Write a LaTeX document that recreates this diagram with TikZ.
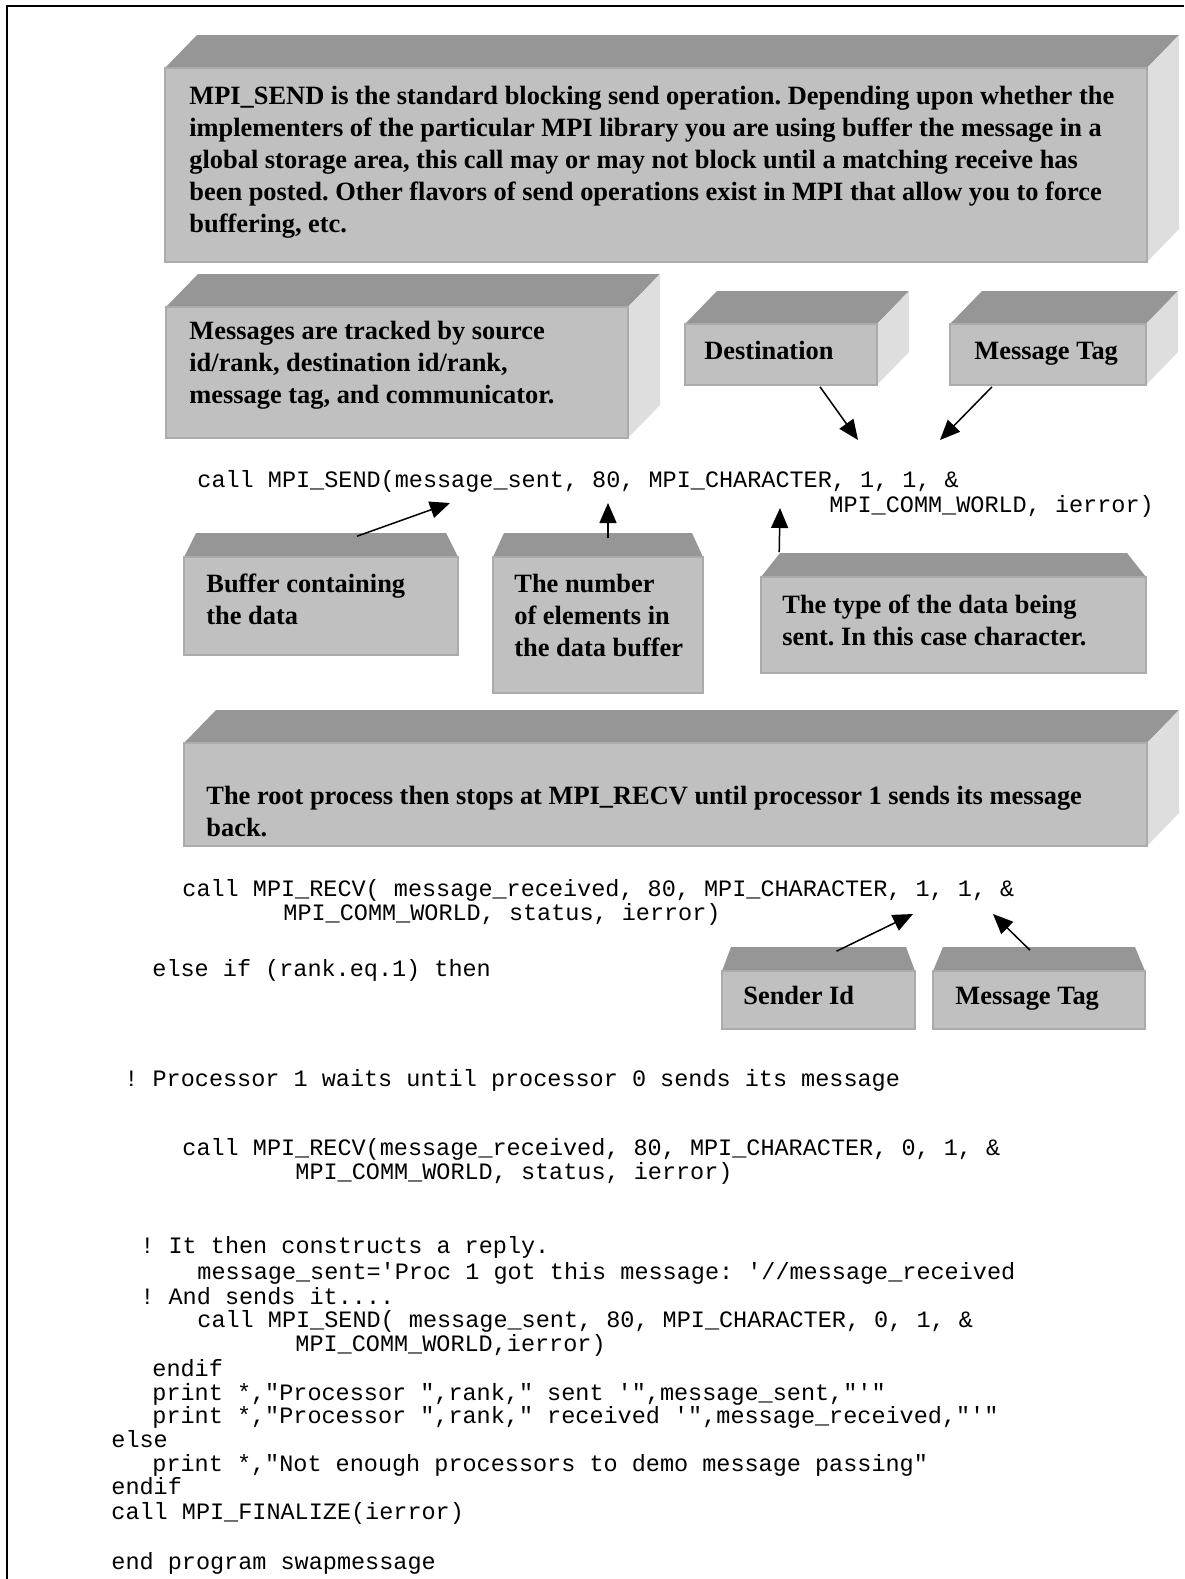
\documentclass[tikz,border=0pt]{standalone}
\usepackage{fontspec}
\setmainfont{Liberation Serif}
\setmonofont{Liberation Mono}
\usetikzlibrary{arrows.meta,calc,fit}
\frenchspacing

\definecolor{frontgray}{HTML}{C0C0C0}
\definecolor{topgray}{HTML}{969696}
\definecolor{sidegray}{HTML}{DEDEDE}
\definecolor{edgegray}{HTML}{ABABAB}

\newcommand{\notefont}{\bfseries\fontsize{13.2pt}{16pt}\selectfont}
\newcommand{\codefont}{\ttfamily\fontsize{11.75pt}{12.1pt}\selectfont}

% raised box with top and right faces: name, x1, y1, x2, y2 of the front face
\newcommand{\raisedbox}[5]{%
    \fill[topgray] (#2,#3) -- ++(32,-33) -- (#4+32,#3-33) -- (#4,#3) -- cycle;
    \fill[sidegray] (#4,#3) -- (#4+32,#3-33) -- (#4+32,#5-33) -- (#4,#5) -- cycle;
    \node[frontface, fit={(#2,#3) (#4,#5)}] (#1) {};}
% box with a bevelled top only: name, x1, y1, x2, y2, inset of the top edge
\newcommand{\bevelbox}[6]{%
    \fill[topgray] (#2,#3) -- (#2+#6,#3-24) -- (#4-#6,#3-24) -- (#4,#3) -- cycle;
    \node[frontface, fit={(#2,#3) (#4,#5)}] (#1) {};}

\tikzset{
    frontface/.style={fill=frontgray, draw=edgegray, line width=0.8pt, inner sep=0pt},
    note/.style={font=\notefont, align=left, anchor=north west, inner sep=0pt},
    label/.style={font=\notefont, anchor=base west, inner sep=0pt},
    code/.style={font=\codefont, anchor=base west, inner sep=0pt},
    pointer/.style={line width=0.75pt, -{Triangle[length=10pt,width=8.5pt]}},
}

\begin{document}
\begin{tikzpicture}[x=0.5pt, y=-0.5pt]
    \useasboundingbox (0,0) rectangle (1184,1579);
    \draw[line width=1.3pt] (7,1579) -- (7,6) -- (1184,6);   % page frame

    % callout boxes
    \raisedbox{sendbox}{165}{68}{1147}{262}
    \raisedbox{trackbox}{166}{307}{628}{438}
    \raisedbox{destbox}{685}{324}{877}{385}
    \raisedbox{tagbox}{950}{324}{1146}{385}
    \bevelbox{bufbox}{184}{557}{458}{655}{12}
    \bevelbox{numbox}{493}{557}{703}{693}{11}
    \bevelbox{typebox}{761}{577}{1146}{673}{19}
    \raisedbox{rootbox}{184}{743}{1147}{846}
    \bevelbox{senderbox}{722}{971}{915}{1029}{9}
    \bevelbox{tagtwobox}{933}{971}{1145}{1029}{10}

    \node[note] (sendnote) at (189,86) {MPI\_SEND is the standard blocking send operation. Depending upon whether the\\
        implementers of the particular MPI library you are using buffer the message in a\\
        global storage area, this call may or may not block until a matching receive has\\
        been posted. Other flavors of send operations exist in MPI that allow you to force\\
        buffering, etc.};
    \node[note] (tracknote) at (189,321) {Messages are tracked by source\\ id/rank, destination id/rank,\\ message tag, and communicator.};
    \node[label] (destnote) at (704,359) {Destination};
    \node[label] (tagnote) at (974,359) {Message Tag};
    \node[note] (bufnote) at (206,574) {Buffer containing\\ the data};
    \node[note] (numnote) at (514,574) {The number\\ of elements in\\ the data buffer};
    \node[note] (typenote) at (782,595) {The type of the data being\\ sent. In this case character.};
    \node[note] (rootnote) at (206,786) {The root process then stops at MPI\_RECV until processor 1 sends its message\\ back.};
    \node[label] (sendernote) at (743,1004) {Sender Id};
    \node[label] (tagtwonote) at (955,1004) {Message Tag};

    % program text
    \node[code] (sendcall) at (197,487) {call MPI\_SEND(message\_sent, 80, MPI\_CHARACTER, 1, 1, \&};
    \node[code] (sendcont) at (829,512) {MPI\_COMM\_WORLD, ierror)};
    \node[code] (recvcall) at (182,896) {call MPI\_RECV( message\_received, 80, MPI\_CHARACTER, 1, 1, \&};
    \node[code] (recvcont) at (283,920) {MPI\_COMM\_WORLD, status, ierror)};
    \node[code] (elseif) at (152,976) {else if (rank.eq.1) then};
    \node[code] (waitcmt) at (124,1086) {! Processor 1 waits until processor 0 sends its message};
    \node[code] (recvcalltwo) at (182,1155) {call MPI\_RECV(message\_received, 80, MPI\_CHARACTER, 0, 1, \&};
    \node[code] (recvconttwo) at (295,1179) {MPI\_COMM\_WORLD, status, ierror)};
    \node[code] (replycmt) at (140,1253) {! It then constructs a reply.};
    \node[code] (replyset) at (197,1279) {message\_sent='Proc 1 got this message: '//message\_received};
    \node[code] (sendcmt) at (140,1304) {! And sends it....};
    \node[code] (sendcalltwo) at (197,1327) {call MPI\_SEND( message\_sent, 80, MPI\_CHARACTER, 0, 1, \&};
    \node[code] (sendconttwo) at (295,1351) {MPI\_COMM\_WORLD,ierror)};
    \node[code] (endifin) at (152,1376) {endif};
    \node[code] (printsent) at (152,1400) {print *,"Processor ",rank," sent '",message\_sent,"'"};
    \node[code] (printrecv) at (152,1423) {print *,"Processor ",rank," received '",message\_received,"'"};
    \node[code] (elseout) at (111,1447) {else};
    \node[code] (printnot) at (152,1471) {print *,"Not enough processors to demo message passing"};
    \node[code] (endifout) at (111,1494) {endif};
    \node[code] (finalize) at (111,1519) {call MPI\_FINALIZE(ierror)};
    \node[code] (endprog) at (111,1569) {end program swapmessage};

    % arrow tips point into the program text
    \coordinate (buftip) at (450,503);
    \coordinate (numtip) at (608,503);
    \coordinate (typetip) at (780,508);
    \coordinate (desttip) at (858,440);
    \coordinate (tagtip) at (940,440);
    \coordinate (sendertip) at (913,914);
    \coordinate (tagtwotip) at (993,914);

    \draw[pointer] ($(bufbox.north)+(36,-20)$) -- (buftip);
    \draw[pointer] ($(numbox.north)+(10,-18)$) -- (numtip);
    \draw[pointer] ($(typebox.north west)+(19,-24)$) -- (typetip);
    \draw[pointer] ($(destbox.south)+(39,1)$) -- (desttip);
    \draw[pointer] ($(tagbox.south)+(-56,1)$) -- (tagtip);
    \draw[pointer] ($(senderbox.north)+(18,-19)$) -- (sendertip);
    \draw[pointer] ($(tagtwobox.north)+(-9,-20)$) -- (tagtwotip);
\end{tikzpicture}
\end{document}
